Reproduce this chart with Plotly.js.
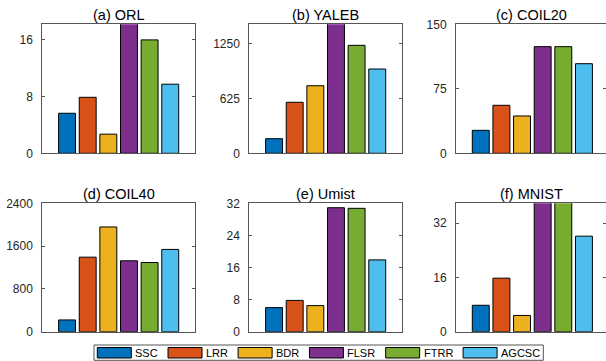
<!DOCTYPE html>
<html>
<head>
<meta charset="utf-8">
<script src="https://cdn.plot.ly/plotly-3.0.1.min.js"></script>
<style>html,body{margin:0;padding:0;background:#fff;}#chart{width:606px;height:361px;}</style>
</head>
<body>
<div id="chart"></div>
<script>
// ---- data ----
const methods = ['SSC', 'LRR', 'BDR', 'FLSR', 'FTRR', 'AGCSC'];
const datasets = ['(a) ORL', '(b) YALEB', '(c) COIL20', '(d) COIL40', '(e) Umist', '(f) MNIST'];
const orl    = [5.65, 7.9, 2.7, 20, 16.0, 9.75];
const yaleb  = [166, 580, 768, 1600, 1227, 958];
const coil20 = [26.7, 55.8, 43.4, 124, 124, 104.2];
const coil40 = [220, 1393, 1958, 1325, 1293, 1538];
const umist  = [6.0, 7.8, 6.5, 30.9, 30.75, 17.9];
const mnist  = [7.8, 15.8, 4.8, 40, 40, 28.2];
const yTicks = [[0, 8, 16], [0, 625, 1250], [0, 75, 150], [0, 800, 1600, 2400], [0, 8, 16, 24, 32], [0, 16, 32]];
const yMax = [18.2, 1466, 150, 2400, 32, 37.9];

// ---- style ----
const colors = ['#0072BD', '#D95319', '#EDB120', '#7E2F8E', '#77AC30', '#4DBEEE'];
const W = 606, H = 361;
const FONT = "'Liberation Sans', Arial, sans-serif";
const seriesList = [orl, yaleb, coil20, coil40, umist, mnist];
const colPx = [[42.3, 195], [249.3, 402.3], [456, 606]];
const rowPx = [[24.3, 153.3], [203.3, 331.7]];
const pxPerUnit = (195 - 42.3) / 7.4;

const px = x => x / W;
const py = y => 1 - y / H;

const traces = [];
const layout = {
  width: W, height: H,
  margin: {l: 0, r: 0, t: 0, b: 0},
  paper_bgcolor: '#fff', plot_bgcolor: '#fff',
  showlegend: false,
  bargap: 0,
  font: {family: FONT, size: 11, color: '#262626'},
  annotations: [], shapes: []
};

seriesList.forEach((vals, i) => {
  const r = Math.floor(i / 3), c = i % 3;
  const sfx = i === 0 ? '' : String(i + 1);
  traces.push({
    type: 'bar',
    x: methods.map((m, k) => k),
    y: vals,
    width: 0.82,
    marker: {color: colors, line: {color: '#000', width: 1}},
    xaxis: 'x' + sfx, yaxis: 'y' + sfx,
    hoverinfo: 'skip'
  });
  const x0 = colPx[c][0], x1 = colPx[c][1];
  const y0 = rowPx[r][0], y1 = rowPx[r][1];
  const xr0 = -1.2;
  const xr1 = xr0 + (x1 - x0) / pxPerUnit;
  layout['xaxis' + sfx] = {
    domain: [px(x0), px(x1)], range: [xr0, xr1],
    anchor: 'y' + sfx,
    showline: true, linecolor: '#555', linewidth: 1, mirror: true,
    showgrid: false, zeroline: false, ticks: '', showticklabels: false, fixedrange: true
  };
  layout['yaxis' + sfx] = {
    domain: [py(y1), py(y0)], range: [0, yMax[i]],
    anchor: 'x' + sfx,
    showline: true, linecolor: '#555', linewidth: 1, mirror: 'ticks',
    ticks: 'inside', ticklen: 3, tickcolor: '#555', tickwidth: 1,
    tickvals: yTicks[i], ticktext: yTicks[i].map(String),
    ticklabelstandoff: 6,
    tickfont: {family: FONT, size: 12, color: '#262626'},
    showgrid: false, zeroline: false, fixedrange: true
  };
  layout.annotations.push({
    xref: 'paper', yref: 'paper',
    x: px((x0 + Math.min(x1, x0 + 152.7)) / 2), y: py(y0 - 9.5),
    xanchor: 'center', yanchor: 'middle',
    text: datasets[i], showarrow: false,
    font: {family: FONT, size: 14.5, color: '#000'}
  });
});

// ---- custom legend (MATLAB-like horizontal legend) ----
const ctx = document.createElement('canvas').getContext('2d');
ctx.font = "11px 'Liberation Sans', Arial, sans-serif";
const swW = 34, swTop = 347.5, swBot = 358;
let lx = 97.3;
const legLeft = 94;
methods.forEach((m, k) => {
  layout.shapes.push({
    type: 'rect', xref: 'paper', yref: 'paper',
    x0: px(lx), x1: px(lx + swW), y0: py(swBot), y1: py(swTop),
    fillcolor: colors[k], line: {color: '#000', width: 1}
  });
  layout.annotations.push({
    xref: 'paper', yref: 'paper', x: px(lx + swW + 2), y: py(352.8),
    xanchor: 'left', yanchor: 'middle', text: m, showarrow: false,
    font: {family: FONT, size: 11, color: '#000'}
  });
  lx += swW + 3.5 + ctx.measureText(m).width + 10.6;
});
layout.shapes.push({
  type: 'rect', xref: 'paper', yref: 'paper',
  x0: px(legLeft), x1: px(lx - 7), y0: py(360.3), y1: py(345),
  fillcolor: 'rgba(0,0,0,0)', line: {color: '#555', width: 1}
});

Plotly.newPlot('chart', traces, layout, {staticPlot: true, displayModeBar: false});
</script>
</body>
</html>
